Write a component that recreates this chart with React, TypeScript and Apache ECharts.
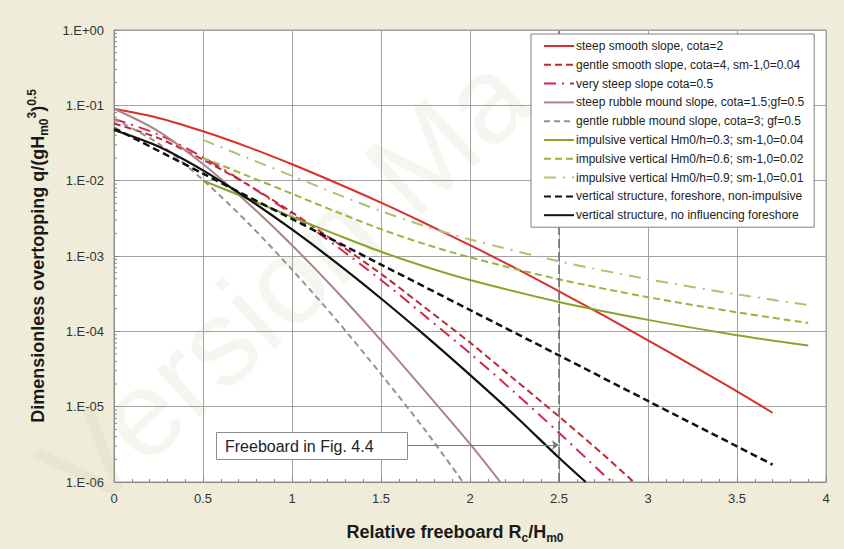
import React, { useEffect, useRef } from "react";
import * as echarts from "echarts";

// ---- data ----
const seriesNames = [
  "steep smooth slope, cota=2",
  "gentle smooth slope, cota=4, sm-1,0=0.04",
  "very steep slope cota=0.5",
  "steep rubble mound slope, cota=1.5;gf=0.5",
  "gentle rubble mound slope, cota=3; gf=0.5",
  "impulsive vertical Hm0/h=0.3; sm-1,0=0.04",
  "impulsive vertical Hm0/h=0.6; sm-1,0=0.02",
  "impulsive vertical Hm0/h=0.9; sm-1,0=0.01",
  "vertical structure, foreshore, non-impulsive",
  "vertical structure, no influencing foreshore",
];

const steepSmoothX = [0, 0.25, 0.5, 0.75, 1, 1.25, 1.5, 1.75, 2, 2.25, 2.5, 2.75, 3, 3.25, 3.5, 3.7];
const steepSmoothQ = [0.09, 0.068, 0.0452, 0.0281, 0.0165, 0.0093, 0.0051, 0.0027, 0.00139, 0.0007, 0.00034, 0.000163, 7.6e-5, 3.5e-5, 1.6e-5, 8.3e-6];

const gentleSmoothX = [0, 0.25, 0.5, 0.75, 1, 1.25, 1.5, 1.75, 2, 2.25, 2.5, 2.75, 2.92];
const gentleSmoothQ = [0.0575, 0.0367, 0.019, 0.0089, 0.0038, 0.00151, 0.00058, 0.000204, 7.1e-5, 2.3e-5, 7.4e-6, 2.3e-6, 1.0e-6];

const verySteepX = [0, 0.25, 0.5, 0.75, 1, 1.25, 1.5, 1.75, 2, 2.25, 2.5, 2.75, 2.8];
const verySteepQ = [0.066, 0.041, 0.0204, 0.0089, 0.0036, 0.00135, 0.00048, 0.000158, 5.1e-5, 1.55e-5, 4.5e-6, 1.26e-6, 1.0e-6];

const steepRubbleX = [0, 0.25, 0.5, 0.75, 1, 1.25, 1.5, 1.75, 2, 2.17];
const steepRubbleQ = [0.09, 0.0452, 0.0166, 0.0051, 0.00139, 0.00034, 7.6e-5, 1.58e-5, 3.2e-6, 1.0e-6];

const gentleRubbleX = [0, 0.25, 0.5, 0.75, 1, 1.25, 1.5, 1.75, 1.96];
const gentleRubbleQ = [0.066, 0.031, 0.0102, 0.0028, 0.00066, 0.000141, 2.7e-5, 4.8e-6, 1.0e-6];

const impulsiveX = [0.5, 0.75, 1, 1.25, 1.5, 1.75, 2, 2.5, 3, 3.5, 3.9];
const impulsive03Q = [0.01, 0.0058, 0.0033, 0.00192, 0.00114, 0.00072, 0.00048, 0.000245, 0.000142, 8.9e-5, 6.5e-5];
const impulsive06Q = [0.0201, 0.0116, 0.0067, 0.00385, 0.00227, 0.00143, 0.00096, 0.00049, 0.000284, 0.000179, 0.000129];
const impulsive09Q = [0.0348, 0.02, 0.0116, 0.00667, 0.00394, 0.00248, 0.00166, 0.00085, 0.000492, 0.00031, 0.000224];

const foreshoreX = [0, 0.5, 1, 1.5, 2, 2.5, 3, 3.5, 3.7];
const foreshoreQ = [0.05, 0.0124, 0.0031, 0.00077, 0.000192, 4.8e-5, 1.19e-5, 2.97e-6, 1.7e-6];

const noForeshoreX = [0, 0.25, 0.5, 0.75, 1, 1.25, 1.5, 1.75, 2, 2.25, 2.5, 2.65];
const noForeshoreQ = [0.047, 0.0284, 0.0137, 0.0058, 0.00225, 0.00081, 0.000273, 8.7e-5, 2.64e-5, 7.7e-6, 2.1e-6, 1.0e-6];

const freeboardX = 2.5;
const arrowStartX = 1.646;
const arrowQ = 3.1e-6;
const annotationText = "Freeboard in Fig. 4.4";
const watermarkText = "Version Ma";

const minorMultipliers = [2, 3, 4, 5, 6, 7, 8, 9];
const minorDecades = [1e-6, 1e-5, 1e-4, 1e-3, 1e-2, 1e-1];

const FONT = "'Liberation Sans', Arial, sans-serif";

const zip = (xs: number[], ys: number[]) => xs.map((x, i) => [x, ys[i]]);

const yLabel = (v: number) => {
  const e = Math.round(Math.log10(v));
  const a = Math.abs(e);
  return "1.E" + (e >= 0 ? "+" : "-") + (a < 10 ? "0" : "") + a;
};

export default function App() {
  const ref = useRef<HTMLDivElement>(null);

  useEffect(() => {
    if (!ref.current) return;
    const chart = echarts.init(ref.current, undefined, { renderer: "svg" });

    const lineSeries = (
      name: string,
      data: number[][],
      color: string,
      type: any,
      width = 2
    ) => ({
      name,
      type: "line",
      data,
      smooth: 0.3,
      symbol: "none",
      clip: true,
      lineStyle: { color, width, type },
      itemStyle: { color },
      z: 3,
    });

    const minorData: number[][] = [];
    minorDecades.forEach((d) => minorMultipliers.forEach((m) => minorData.push([0, m * d])));

    const option: any = {
      animation: false,
      backgroundColor: "#efedd9",
      textStyle: { fontFamily: FONT },
      grid: {
        left: 114,
        top: 30,
        right: 18,
        bottom: 66,
        show: true,
        backgroundColor: "#ffffff",
        borderColor: "#999999",
        borderWidth: 1,
      },
      legend: {
        orient: "vertical",
        left: 531,
        top: 34,
        padding: [6, 10, 6, 12],
        itemWidth: 30,
        itemHeight: 12,
        itemGap: 6.8,
        backgroundColor: "#ffffff",
        borderColor: "#7f7f7f",
        borderWidth: 1,
        itemStyle: {
          color: "rgba(0,0,0,0)",
          borderColor: "rgba(0,0,0,0)",
          borderWidth: 0,
          opacity: 0,
        },
        textStyle: { fontSize: 12, color: "#222", fontFamily: FONT, padding: [0, 0, 0, -3] },
        data: seriesNames,
        z: 10,
      },
      xAxis: {
        type: "value",
        min: 0,
        max: 4,
        interval: 0.5,
        name: "Relative freeboard R{sub|c}/H{sub|m0}",
        nameLocation: "middle",
        nameGap: 38,
        nameTextStyle: {
          fontSize: 18,
          fontWeight: "bold",
          color: "#1a1a1a",
          fontFamily: FONT,
          lineHeight: 24,
          padding: [0, 30, 0, 0],
          rich: {
            sub: { fontSize: 12, fontWeight: "bold", fontFamily: FONT, color: "#1a1a1a", verticalAlign: "bottom", lineHeight: 13 },
          },
        },
        axisLine: { show: true, lineStyle: { color: "#8a8a8a", width: 1 } },
        axisTick: { show: true, inside: true, length: 5, lineStyle: { color: "#8a8a8a" } },
        minorTick: { show: true, splitNumber: 5, length: 3, lineStyle: { color: "#8a8a8a" } },
        axisLabel: {
          fontSize: 13,
          color: "#333",
          margin: 10,
          fontFamily: FONT,
          formatter: (v: number) => String(v),
        },
        splitLine: { show: true, lineStyle: { color: "#a2a2a2", width: 1 } },
      },
      yAxis: {
        type: "log",
        logBase: 10,
        min: 1e-6,
        max: 1,
        interval: 1,
        name: "Dimensionless overtopping q/(gH{sub|m0}{sup|3}){sup|0.5}",
        nameLocation: "middle",
        nameRotate: 90,
        nameGap: 64,
        nameTextStyle: {
          fontSize: 18,
          fontWeight: "bold",
          color: "#1a1a1a",
          fontFamily: FONT,
          lineHeight: 24,
          rich: {
            sub: { fontSize: 12, fontWeight: "bold", fontFamily: FONT, color: "#1a1a1a", verticalAlign: "bottom", lineHeight: 13 },
            sup: { fontSize: 12, fontWeight: "bold", fontFamily: FONT, color: "#1a1a1a", verticalAlign: "top", lineHeight: 13 },
          },
        },
        axisLine: { show: true, lineStyle: { color: "#8a8a8a", width: 1 } },
        axisTick: { show: true, inside: true, length: 5, lineStyle: { color: "#8a8a8a" } },
        axisLabel: {
          fontSize: 13,
          color: "#333",
          margin: 10,
          fontFamily: FONT,
          formatter: yLabel,
        },
        splitLine: { show: true, lineStyle: { color: "#a2a2a2", width: 1 } },
      },
      graphic: [
        {
          type: "text",
          x: 60,
          y: 488,
          rotation: 0.74,
          z: 1,
          silent: true,
          style: {
            text: watermarkText,
            fontSize: 122,
            fontFamily: FONT,
            fill: "rgba(185,180,130,0.12)",
            align: "left",
            verticalAlign: "middle",
          },
        },
        {
          type: "rect",
          z: 20,
          shape: { x: 216.5, y: 432.5, width: 191, height: 27 },
          style: { fill: "#ffffff", stroke: "#8c8c8c", lineWidth: 1 },
        },
        {
          type: "text",
          z: 21,
          x: 225,
          y: 446,
          style: {
            text: annotationText,
            fontSize: 16,
            fontFamily: FONT,
            fill: "#222",
            align: "left",
            verticalAlign: "middle",
          },
        },
      ],
      series: [
        lineSeries(seriesNames[0], zip(steepSmoothX, steepSmoothQ), "#d8302a", "solid"),
        lineSeries(seriesNames[1], zip(gentleSmoothX, gentleSmoothQ), "#bf2a32", [7, 4]),
        lineSeries(seriesNames[2], zip(verySteepX, verySteepQ), "#cf2553", [12, 6, 2, 6]),
        lineSeries(seriesNames[3], zip(steepRubbleX, steepRubbleQ), "#ad8389", "solid"),
        lineSeries(seriesNames[4], zip(gentleRubbleX, gentleRubbleQ), "#9e8e96", [6, 4]),
        lineSeries(seriesNames[5], zip(impulsiveX, impulsive03Q), "#8aa42a", "solid"),
        lineSeries(seriesNames[6], zip(impulsiveX, impulsive06Q), "#9cb43c", [7, 4]),
        lineSeries(seriesNames[7], zip(impulsiveX, impulsive09Q), "#b2c26c", [12, 7, 2, 7]),
        lineSeries(seriesNames[8], zip(foreshoreX, foreshoreQ), "#111111", [7, 4], 2.5),
        {
          ...lineSeries(seriesNames[9], zip(noForeshoreX, noForeshoreQ), "#111111", "solid", 2.2),
          markLine: {
            silent: true,
            symbol: "none",
            label: { show: false },
            animation: false,
            data: [
              {
                xAxis: freeboardX,
                lineStyle: { color: "#6a6a78", width: 1.5, type: [9, 4] },
              },
              [
                { coord: [arrowStartX, arrowQ], symbol: "none", lineStyle: { color: "#7a7a7a", width: 1, type: "solid" } },
                { coord: [freeboardX, arrowQ], symbol: "arrow", symbolSize: 7, lineStyle: { color: "#7a7a7a", width: 1, type: "solid" } },
              ],
            ],
          },
        },
        {
          name: "yMinorTicks",
          type: "custom",
          silent: true,
          z: 4,
          data: minorData,
          renderItem: (_params: any, api: any) => {
            const p = api.coord([0, api.value(1)]);
            return {
              type: "line",
              shape: { x1: p[0], y1: p[1], x2: p[0] + 3, y2: p[1] },
              style: { stroke: "#8a8a8a", lineWidth: 1 },
            };
          },
        },
      ],
    };

    chart.setOption(option);
    return () => chart.dispose();
  }, []);

  return (
    <div
      ref={ref}
      style={{ position: "fixed", left: 0, top: 0, width: 844, height: 549 }}
    />
  );
}
